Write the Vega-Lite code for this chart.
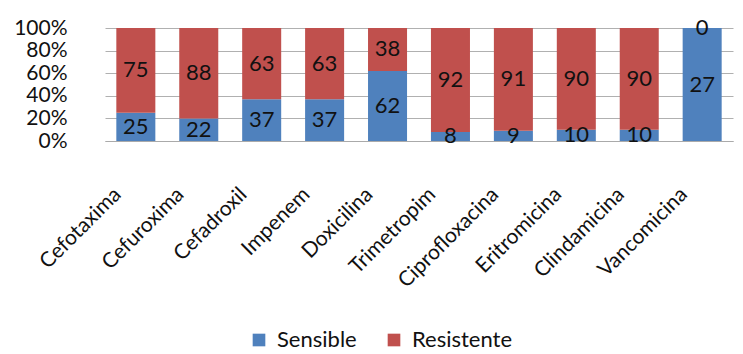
{
  "$schema": "https://vega.github.io/schema/vega-lite/v6.json",
  "autosize": "none",
  "width": 628,
  "height": 113,
  "padding": {"left": 105, "top": 28, "right": 10, "bottom": 213},
  "config": {"view": {"stroke": null}, "font": "Lato"},
  "data": {"values": [
    {"antibiotico": "Cefotaxima", "tipo": "Sensible", "valor": 25},
    {"antibiotico": "Cefotaxima", "tipo": "Resistente", "valor": 75},
    {"antibiotico": "Cefuroxima", "tipo": "Sensible", "valor": 22},
    {"antibiotico": "Cefuroxima", "tipo": "Resistente", "valor": 88},
    {"antibiotico": "Cefadroxil", "tipo": "Sensible", "valor": 37},
    {"antibiotico": "Cefadroxil", "tipo": "Resistente", "valor": 63},
    {"antibiotico": "Impenem", "tipo": "Sensible", "valor": 37},
    {"antibiotico": "Impenem", "tipo": "Resistente", "valor": 63},
    {"antibiotico": "Doxicilina", "tipo": "Sensible", "valor": 62},
    {"antibiotico": "Doxicilina", "tipo": "Resistente", "valor": 38},
    {"antibiotico": "Trimetropim", "tipo": "Sensible", "valor": 8},
    {"antibiotico": "Trimetropim", "tipo": "Resistente", "valor": 92},
    {"antibiotico": "Ciprofloxacina", "tipo": "Sensible", "valor": 9},
    {"antibiotico": "Ciprofloxacina", "tipo": "Resistente", "valor": 91},
    {"antibiotico": "Eritromicina", "tipo": "Sensible", "valor": 10},
    {"antibiotico": "Eritromicina", "tipo": "Resistente", "valor": 90},
    {"antibiotico": "Clindamicina", "tipo": "Sensible", "valor": 10},
    {"antibiotico": "Clindamicina", "tipo": "Resistente", "valor": 90},
    {"antibiotico": "Vancomicina", "tipo": "Sensible", "valor": 27},
    {"antibiotico": "Vancomicina", "tipo": "Resistente", "valor": 0}
  ]},
  "encoding": {
    "x": {
      "field": "antibiotico", "type": "nominal", "sort": null,
      "scale": {"paddingInner": 0.38, "paddingOuter": 0.18},
      "axis": {"title": null, "labelAngle": -45, "labelAlign": "right", "labelBaseline": "middle",
        "labelFontSize": 21, "labelColor": "#111", "ticks": false, "domain": true, "domainColor": "#aaa",
        "labelPadding": 50, "labelOffset": -18, "labelLimit": 250}
    },
    "y": {
      "field": "valor", "type": "quantitative", "stack": "normalize",
      "axis": {"title": null, "format": ".0%", "values": [0, 0.2, 0.4, 0.6, 0.8, 1],
        "labelFontSize": 21, "labelColor": "#111", "ticks": false, "domain": false,
        "gridColor": "#b0b0b0", "labelPadding": 38}
    },
    "order": {"field": "tipo", "type": "nominal", "sort": "descending"}
  },
  "layer": [
    {
      "mark": {"type": "bar", "stroke": null},
      "encoding": {
        "color": {
          "field": "tipo", "type": "nominal",
          "scale": {"domain": ["Sensible", "Resistente"], "range": ["#4F81BD", "#C0504D"]},
          "legend": {"title": null, "orient": "none", "direction": "horizontal", "legendX": 143, "legendY": 301,
            "symbolType": "square", "symbolSize": 160, "symbolStrokeWidth": 0, "labelFontSize": 22, "labelColor": "#111",
            "columnPadding": 26, "labelOffset": 7}
        }
      }
    },
    {
      "mark": {"type": "text", "fontSize": 22, "color": "#111"},
      "encoding": {
        "y": {"field": "valor", "type": "quantitative", "stack": "normalize", "bandPosition": 0.5},
        "text": {"field": "valor", "type": "quantitative"}
      }
    }
  ]
}
